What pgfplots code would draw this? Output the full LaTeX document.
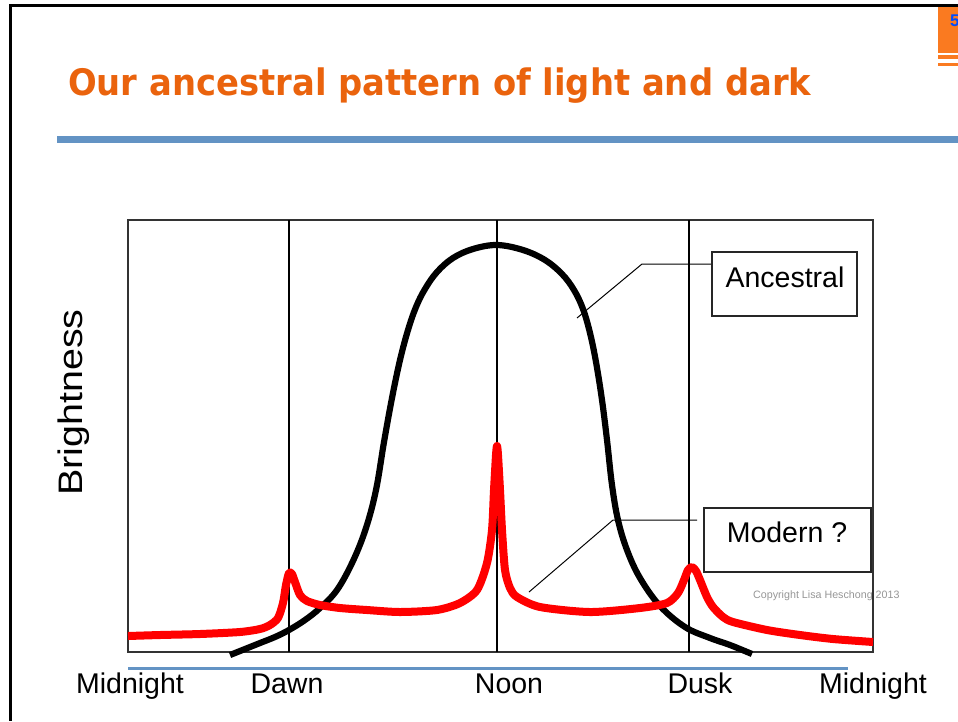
\documentclass[border=0pt]{standalone}
\usepackage{fontspec}
\setmainfont{Liberation Sans}
\newfontfamily\titlefont{DejaVu Sans}
\usepackage{pgfplots}
\pgfplotsset{compat=1.18}
\definecolor{ttlorange}{RGB}{234,99,13}
\definecolor{rulblue}{RGB}{99,147,196}
\definecolor{logoorange}{RGB}{250,122,32}
\definecolor{cpgray}{RGB}{150,150,150}
\begin{document}
\begin{tikzpicture}
\path[use as bounding box] (0,0) rectangle (958pt,-721pt);
% slide frame
\fill[black] (9pt,-4pt) rectangle (958pt,-7pt);
\fill[black] (9pt,-4pt) rectangle (12pt,-721pt);
% logo
\fill[logoorange] (938pt,-7pt) rectangle (958pt,-53pt);
\fill[logoorange] (938pt,-55pt) rectangle (958pt,-59pt);
\fill[logoorange] (938pt,-63pt) rectangle (958pt,-66pt);
\begin{scope}
\clip (938pt,-7pt) rectangle (958pt,-53pt);
\node[anchor=base west, inner sep=0pt, text=blue!70!cyan, font=\bfseries\fontsize{17}{18}\selectfont] at (950pt,-26pt) {5};
\end{scope}
% title
\node[anchor=base west, inner sep=0pt, text=ttlorange] at (68pt,-95pt)
  {\scalebox{1}[1.08]{\titlefont\bfseries\fontsize{33.8}{40}\selectfont Our ancestral pattern of light and dark}};
\fill[rulblue] (57pt,-136pt) rectangle (958pt,-143pt);
% y label
\node[rotate=90, anchor=base, inner sep=0pt] at (82pt,-402.5pt)
  {\scalebox{1.16}[1.0]{\fontsize{34}{40}\selectfont Brightness}};
% blue rule under plot
\fill[rulblue] (128pt,-666.5pt) rectangle (848pt,-669.5pt);
\begin{axis}[
  at={(128pt,-652pt)}, anchor=south west,
  scale only axis, width=745pt, height=432pt,
  xmin=128, xmax=873, ymin=-652, ymax=-220,
  clip=false,
  axis line style={black!80, line width=1.2pt},
  ytick=\empty,
  xtick={130,287,509,700,873},
  xticklabels={Midnight,Dawn,Noon,Dusk,Midnight},
  major tick length=0pt,
  xticklabel style={anchor=base, yshift=-41pt, inner sep=0pt,
    font=\fontsize{28.5}{34}\selectfont},
]
% time markers
\addplot[black, line width=1.8pt] coordinates {(289,-220) (289,-652)};
\addplot[black, line width=1.8pt] coordinates {(497,-220) (497,-652)};
\addplot[black, line width=1.8pt] coordinates {(689,-220) (689,-652)};
% ancestral
\addplot[black, line width=6.2pt, smooth, tension=0.6, line cap=butt, line join=round] coordinates {
(230,-655) (245,-649) (260,-643) (275,-637) (289,-630) (305,-620) (320,-608)
(337,-590) (353,-561) (366,-528) (376,-490) (384,-442) (392,-398) (400,-360)
(408,-330) (416,-307) (425,-289) (437,-272) (453,-258) (473,-249) (497,-245)
(523,-250) (545,-260) (562,-274) (574,-290) (583,-309) (590,-333) (596,-362)
(602,-400) (607,-440) (612,-485) (618,-520) (627,-550) (640,-578) (660,-606)
(685,-627) (710,-638) (730,-645) (752,-654)};
% modern
\addplot[red, line width=8pt, smooth, tension=0.45, line cap=butt, line join=round] coordinates {
(128,-636) (160,-635) (200,-634) (240,-632) (260,-629) (270,-625) (278,-618)
(283,-603) (286,-585) (289,-573) (292,-574) (295,-582) (300,-595) (307,-601)
(320,-605) (340,-608) (367,-610) (400,-612) (437,-610) (460,-603) (477,-590)
(487,-563) (492,-530) (494,-490) (496,-455) (497,-446) (498,-455) (500,-490)
(502,-530) (505,-570) (510,-588) (517,-597) (540,-607) (590,-612) (640,-608)
(667,-603) (678,-593) (684,-580) (688,-570) (692,-567) (696,-571) (700,-580)
(707,-597) (713,-607) (723,-617) (733,-622) (767,-630) (800,-635) (833,-639)
(873,-642)};
\end{axis}
% callouts
\draw[black, line width=1pt] (712pt,-264pt) -- (642pt,-264pt) -- (577pt,-318pt);
\draw[black!85, line width=1.2pt, fill=white] (712pt,-252pt) rectangle (857pt,-316pt);
\node[anchor=base, inner sep=0pt, font=\fontsize{28.5}{34}\selectfont] at (785pt,-287pt) {Ancestral};
\draw[black, line width=1pt] (697pt,-520pt) -- (613pt,-520pt) -- (529pt,-592pt);
\draw[black!85, line width=1.2pt, fill=white] (704pt,-508pt) rectangle (871pt,-572pt);
\node[anchor=base, inner sep=0pt, font=\fontsize{28.5}{34}\selectfont] at (787pt,-542pt) {Modern ?};
\node[anchor=base west, inner sep=0pt, text=cpgray, font=\fontsize{10.7}{12}\selectfont] at (753pt,-598pt) {Copyright Lisa Heschong 2013};
\end{tikzpicture}
\end{document}
